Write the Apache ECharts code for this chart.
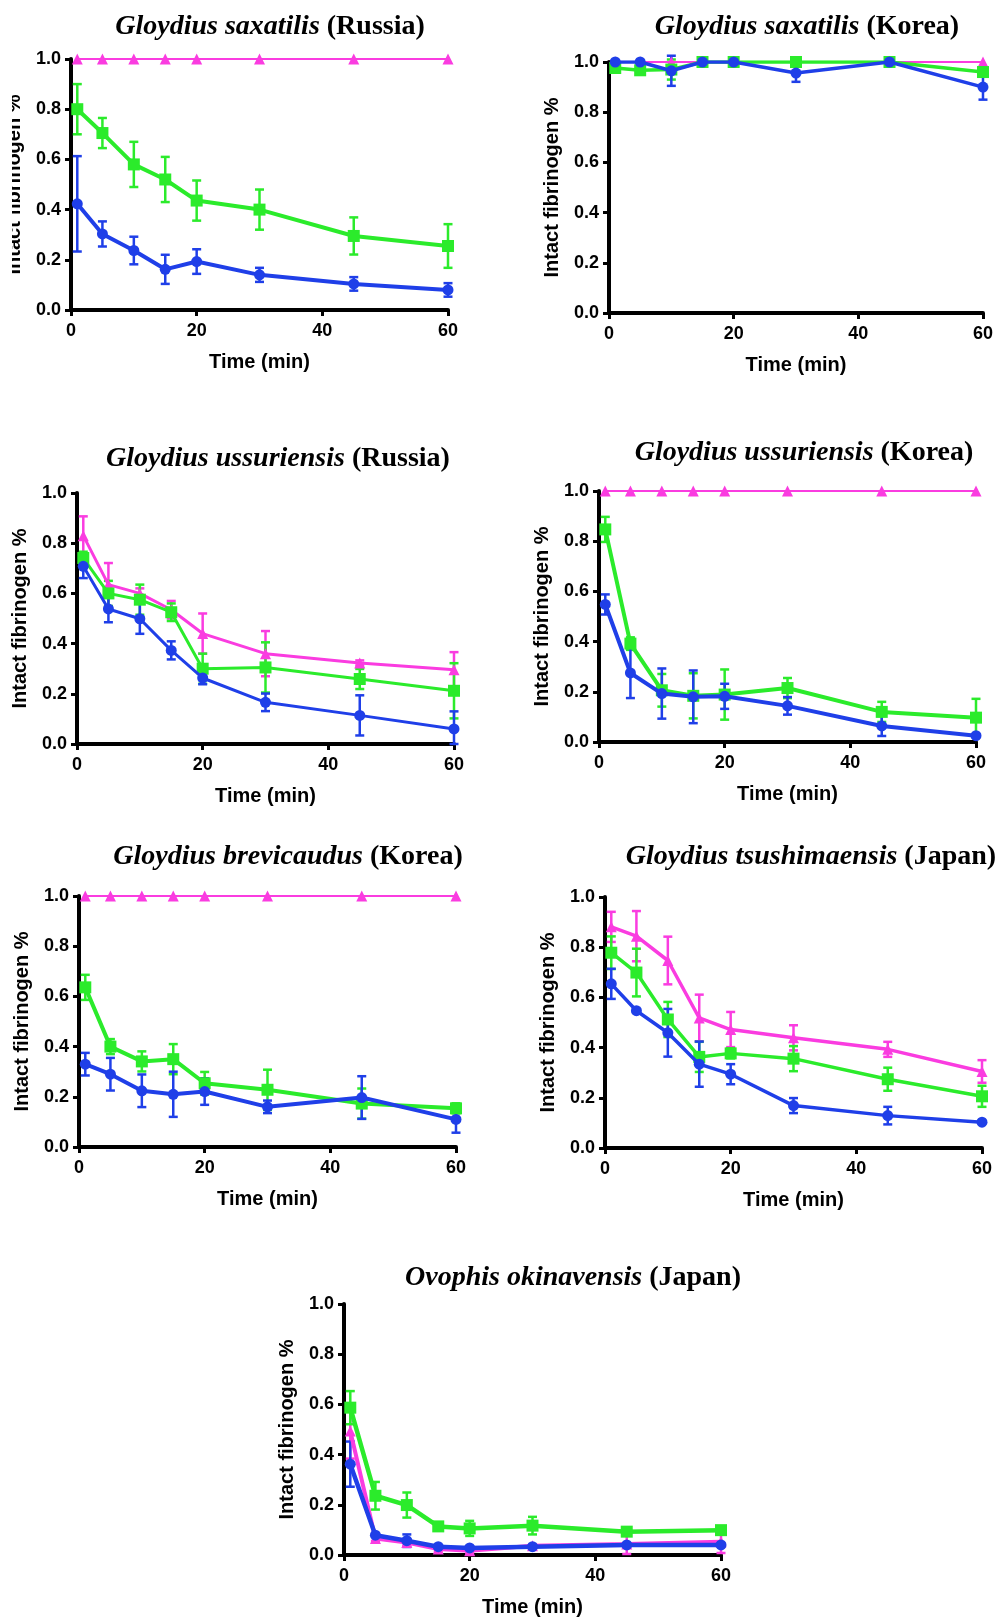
<!DOCTYPE html>
<html>
<head>
<meta charset="utf-8">
<title>Intact fibrinogen over time</title>
<script src="https://cdn.jsdelivr.net/npm/echarts@6.0.0/dist/echarts.min.js"></script>
<style>
  html, body { margin: 0; padding: 0; background: #fff; }
  #chart { width: 996px; height: 1620px; }
</style>
</head>
<body>
<div id="chart"></div>
<script>
const times = [1, 5, 10, 15, 20, 30, 45, 60];

// Gloydius saxatilis (Russia)
const saxRuPink = [1, 1, 1, 1, 1, 1, 1, 1];
const saxRuPinkErr = [0, 0, 0, 0, 0, 0, 0, 0];
const saxRuGreen = [0.80, 0.705, 0.58, 0.52, 0.436, 0.40, 0.295, 0.255];
const saxRuGreenErr = [0.10, 0.06, 0.09, 0.09, 0.08, 0.08, 0.074, 0.087];
const saxRuBlue = [0.423, 0.303, 0.237, 0.162, 0.193, 0.14, 0.104, 0.08];
const saxRuBlueErr = [0.19, 0.05, 0.055, 0.058, 0.049, 0.028, 0.027, 0.027];

// Gloydius saxatilis (Korea)
const saxKoPink = [1, 1, 1, 1, 1, 1, 1, 1];
const saxKoPinkErr = [0, 0, 0, 0, 0, 0, 0, 0];
const saxKoGreen = [0.976, 0.967, 0.97, 1.0, 1.0, 1.0, 1.0, 0.96];
const saxKoGreenErr = [0, 0, 0.04, 0, 0, 0, 0, 0.01];
const saxKoBlue = [1.0, 1.0, 0.965, 1.0, 1.0, 0.956, 1.0, 0.90];
const saxKoBlueErr = [0, 0, 0.06, 0, 0, 0.035, 0, 0.05];

// Gloydius ussuriensis (Russia)
const ussRuPink = [0.83, 0.635, 0.60, 0.535, 0.44, 0.36, 0.323, 0.296];
const ussRuPinkErr = [0.077, 0.086, 0.02, 0.035, 0.08, 0.09, 0.01, 0.07];
const ussRuGreen = [0.741, 0.60, 0.575, 0.525, 0.30, 0.305, 0.259, 0.212];
const ussRuGreenErr = [0.025, 0.05, 0.06, 0.035, 0.06, 0.10, 0.04, 0.11];
const ussRuBlue = [0.708, 0.538, 0.499, 0.373, 0.263, 0.166, 0.114, 0.06];
const ussRuBlueErr = [0.047, 0.053, 0.06, 0.036, 0.025, 0.035, 0.08, 0.07];

// Gloydius ussuriensis (Korea)
const ussKoPink = [1, 1, 1, 1, 1, 1, 1, 1];
const ussKoPinkErr = [0, 0, 0, 0, 0, 0, 0, 0];
const ussKoGreen = [0.847, 0.392, 0.206, 0.184, 0.189, 0.215, 0.12, 0.097];
const ussKoGreenErr = [0.05, 0.025, 0.065, 0.09, 0.10, 0.04, 0.04, 0.075];
const ussKoBlue = [0.548, 0.275, 0.193, 0.18, 0.182, 0.144, 0.064, 0.025];
const ussKoBlueErr = [0.04, 0.10, 0.10, 0.105, 0.05, 0.035, 0.04, 0.005];

// Gloydius brevicaudus (Korea)
const breKoPink = [1, 1, 1, 1, 1, 1, 1, 1];
const breKoPinkErr = [0, 0, 0, 0, 0, 0, 0, 0];
const breKoGreen = [0.636, 0.40, 0.341, 0.35, 0.254, 0.228, 0.173, 0.154];
const breKoGreenErr = [0.05, 0.03, 0.04, 0.06, 0.045, 0.08, 0.06, 0.02];
const breKoBlue = [0.33, 0.29, 0.224, 0.21, 0.221, 0.16, 0.197, 0.11];
const breKoBlueErr = [0.045, 0.065, 0.065, 0.09, 0.053, 0.025, 0.085, 0.053];

// Gloydius tsushimaensis (Japan)
const tsuJpPink = [0.881, 0.844, 0.747, 0.518, 0.472, 0.439, 0.393, 0.305];
const tsuJpPinkErr = [0.06, 0.10, 0.095, 0.093, 0.07, 0.05, 0.03, 0.045];
const tsuJpGreen = [0.778, 0.699, 0.512, 0.363, 0.377, 0.356, 0.274, 0.206];
const tsuJpGreenErr = [0.065, 0.095, 0.07, 0.06, 0.02, 0.05, 0.046, 0.042];
const tsuJpBlue = [0.654, 0.547, 0.459, 0.334, 0.294, 0.169, 0.129, 0.103];
const tsuJpBlueErr = [0.06, 0.005, 0.095, 0.09, 0.04, 0.03, 0.035, 0.005];

// Ovophis okinavensis (Japan)
const okiJpPink = [0.494, 0.066, 0.05, 0.024, 0.017, 0.037, 0.044, 0.053];
const okiJpPinkErr = [0.11, 0.01, 0.01, 0.01, 0.01, 0.005, 0.04, 0.045];
const okiJpGreen = [0.587, 0.236, 0.199, 0.114, 0.106, 0.117, 0.093, 0.099];
const okiJpGreenErr = [0.066, 0.055, 0.05, 0.01, 0.03, 0.035, 0.015, 0.01];
const okiJpBlue = [0.362, 0.079, 0.057, 0.033, 0.028, 0.033, 0.04, 0.04];
const okiJpBlueErr = [0.09, 0.005, 0.025, 0.005, 0.005, 0.005, 0.005, 0.005];

const species = [
  "Gloydius saxatilis", "Gloydius saxatilis", "Gloydius ussuriensis",
  "Gloydius ussuriensis", "Gloydius brevicaudus", "Gloydius tsushimaensis",
  "Ovophis okinavensis"
];
const origins = ["(Russia)", "(Korea)", "(Russia)", "(Korea)", "(Korea)", "(Japan)", "(Japan)"];

const pinkData = [saxRuPink, saxKoPink, ussRuPink, ussKoPink, breKoPink, tsuJpPink, okiJpPink];
const pinkErrs = [saxRuPinkErr, saxKoPinkErr, ussRuPinkErr, ussKoPinkErr, breKoPinkErr, tsuJpPinkErr, okiJpPinkErr];
const greenData = [saxRuGreen, saxKoGreen, ussRuGreen, ussKoGreen, breKoGreen, tsuJpGreen, okiJpGreen];
const greenErrs = [saxRuGreenErr, saxKoGreenErr, ussRuGreenErr, ussKoGreenErr, breKoGreenErr, tsuJpGreenErr, okiJpGreenErr];
const blueData = [saxRuBlue, saxKoBlue, ussRuBlue, ussKoBlue, breKoBlue, tsuJpBlue, okiJpBlue];
const blueErrs = [saxRuBlueErr, saxKoBlueErr, ussRuBlueErr, ussKoBlueErr, breKoBlueErr, tsuJpBlueErr, okiJpBlueErr];

// plot boxes: [left, top] of each grid, and title centre
const boxes = [[71, 59], [609, 62], [77, 493], [599, 491], [79, 896], [605, 897], [344, 1304]];
const titlePos = [[270, 27], [807, 27], [278, 459], [804, 453], [288, 857], [811, 857], [573, 1278]];
// [green/blue width, pink width]
const widths = [[4, 2], [3.5, 2], [3, 3], [4, 2], [4, 2], [3.5, 3.5], [4.5, 4]];

const PINK = "#FA3CE0";
const GREEN = "#2BEB2B";
const BLUE = "#1F3FE8";
const SANS = "Liberation Sans";
const SERIF = "Liberation Serif";

function errorBars(color) {
  return function (params, api) {
    const hi = api.coord([api.value(0), api.value(2)]);
    const lo = api.coord([api.value(0), api.value(1)]);
    const w = 4.5;
    const style = { stroke: color, lineWidth: 2.5 };
    return {
      type: "group",
      children: [
        { type: "line", shape: { x1: hi[0], y1: hi[1], x2: lo[0], y2: lo[1] }, style },
        { type: "line", shape: { x1: hi[0] - w, y1: hi[1], x2: hi[0] + w, y2: hi[1] }, style },
        { type: "line", shape: { x1: lo[0] - w, y1: lo[1], x2: lo[0] + w, y2: lo[1] }, style }
      ]
    };
  };
}

function errSeries(i, vals, errs, color) {
  return {
    type: "custom",
    xAxisIndex: i,
    yAxisIndex: i,
    renderItem: errorBars(color),
    encode: { x: 0, y: [1, 2] },
    silent: true,
    z: 1,
    data: times
      .map((t, k) => [t, Math.max(0, vals[k] - errs[k]), Math.min(1.1, vals[k] + errs[k]), errs[k]])
      .filter(d => d[3] > 0)
  };
}

function lineSeries(i, vals, color, symbol, size, width, z) {
  return {
    type: "line",
    xAxisIndex: i,
    yAxisIndex: i,
    data: times.map((t, k) => [t, vals[k]]),
    symbol: symbol,
    symbolSize: size,
    showAllSymbol: true,
    color: color,
    itemStyle: { color: color },
    lineStyle: { color: color, width: width },
    animation: false,
    silent: true,
    z: z
  };
}

const axisCommon = {
  axisLine: { show: true, onZero: true, lineStyle: { color: "#000", width: 4 } },
  axisTick: { show: true, inside: false, length: 6, lineStyle: { color: "#000", width: 3 } },
  splitLine: { show: false },
  nameTextStyle: { fontFamily: SANS, fontWeight: "bold", fontSize: 20, color: "#000" }
};

const grids = [];
const xAxes = [];
const yAxes = [];
const series = [];
const graphics = [];

boxes.forEach((b, i) => {
  grids.push({ left: b[0], top: b[1], width: 377, height: 251 });
  xAxes.push({
    ...axisCommon,
    gridIndex: i,
    type: "value",
    min: 0,
    max: 60,
    interval: 20,
    name: "Time (min)",
    nameLocation: "middle",
    nameGap: 42,
    axisLabel: { margin: 12, fontFamily: SANS, fontWeight: "bold", fontSize: 18, color: "#000" }
  });
  yAxes.push({
    ...axisCommon,
    gridIndex: i,
    type: "value",
    min: 0,
    max: 1,
    interval: 0.2,
    name: "Intact fibrinogen %",
    nameLocation: "middle",
    nameGap: 47,
    axisLabel: {
      margin: 10,
      fontFamily: SANS,
      fontWeight: "bold",
      fontSize: 18,
      color: "#000",
      formatter: v => v.toFixed(1)
    }
  });

  series.push(errSeries(i, pinkData[i], pinkErrs[i], PINK));
  series.push(errSeries(i, greenData[i], greenErrs[i], GREEN));
  series.push(errSeries(i, blueData[i], blueErrs[i], BLUE));
  series.push(lineSeries(i, pinkData[i], PINK, "triangle", 11, widths[i][1], 3));
  series.push(lineSeries(i, greenData[i], GREEN, "rect", 12, widths[i][0], 4));
  series.push(lineSeries(i, blueData[i], BLUE, "circle", 11, widths[i][0], 5));

  graphics.push({
    type: "text",
    x: titlePos[i][0],
    y: titlePos[i][1],
    style: {
      text: "{sp|" + species[i] + "}{or| " + origins[i] + "}",
      align: "center",
      verticalAlign: "middle",
      textAlign: "center",
      textVerticalAlign: "middle",
      fill: "#000",
      rich: {
        sp: { fontFamily: SERIF, fontStyle: "italic", fontWeight: "bold", fontSize: 28, fill: "#000" },
        or: { fontFamily: SERIF, fontWeight: "bold", fontSize: 28, fill: "#000" }
      }
    }
  });
});

// the first panel's y title is cut off at the left edge in the original figure
graphics.push({
  type: "rect",
  shape: { x: 0, y: 40, width: 12, height: 290 },
  style: { fill: "#fff" },
  z: 100
});

const chart = echarts.init(document.getElementById("chart"), null, { renderer: "canvas" });
chart.setOption({
  backgroundColor: "#fff",
  animation: false,
  grid: grids,
  xAxis: xAxes,
  yAxis: yAxes,
  series: series,
  graphic: graphics
});
</script>
</body>
</html>
